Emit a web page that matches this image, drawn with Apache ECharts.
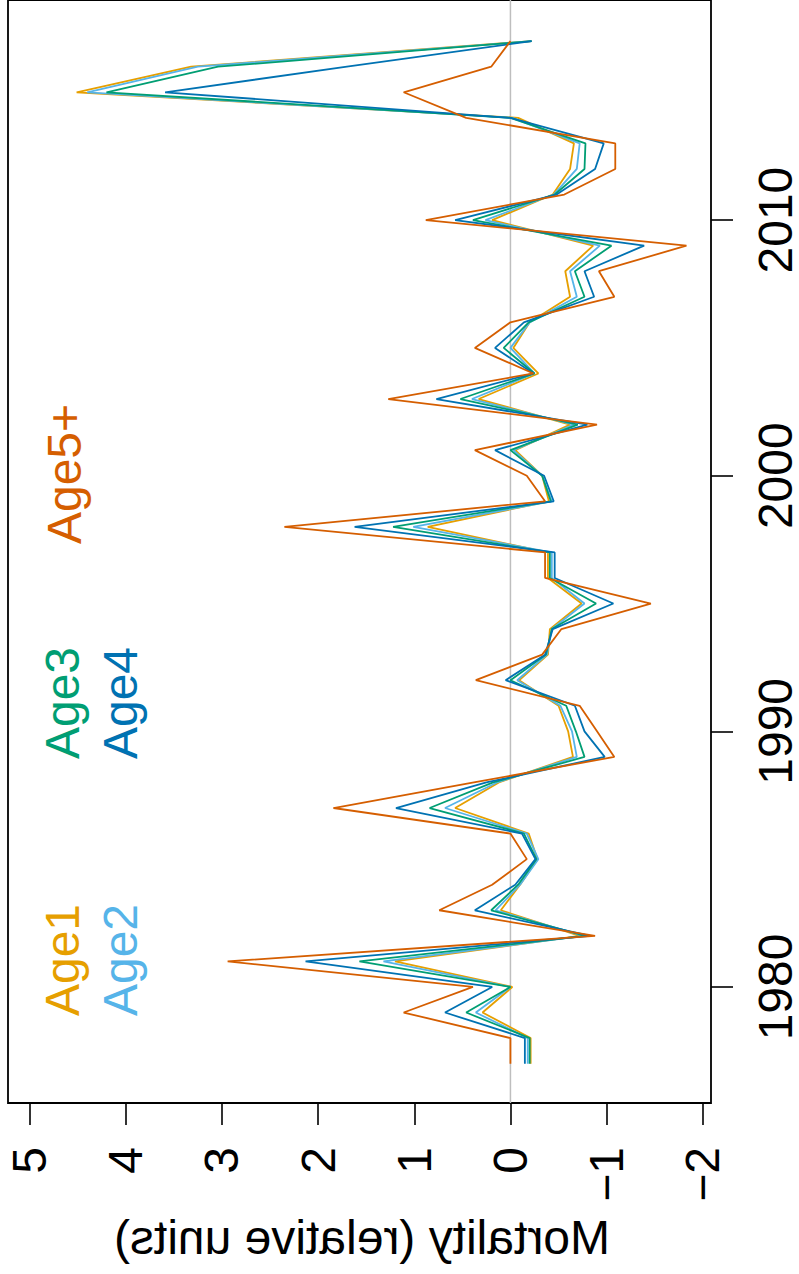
<!DOCTYPE html>
<html>
<head>
<meta charset="utf-8">
<script src="https://cdn.jsdelivr.net/npm/echarts@6/dist/echarts.min.js"></script>
<style>
html,body{margin:0;padding:0;background:#fff;}
#chart{width:799px;height:1274px;}
#err{position:absolute;left:200px;top:560px;font:12px monospace;color:red;white-space:pre-wrap;width:500px;}
</style>
</head>
<body>
<div id="chart"></div>
<div id="err"></div>
<script>
const years = [1977,1978,1979,1980,1981,1982,1983,1984,1985,1986,1987,1988,1989,1990,1991,1992,1993,1994,1995,1996,1997,1998,1999,2000,2001,2002,2003,2004,2005,2006,2007,2008,2009,2010,2011,2012,2013,2014,2015,2016,2017];
const age1 = [-0.21,-0.21,0.29,-0.02,1.20,-0.72,0.10,-0.10,-0.28,-0.19,0.575,0.12,-0.65,-0.60,-0.50,-0.09,-0.39,-0.41,-0.74,-0.39,-0.39,0.86,-0.40,-0.33,-0.05,-0.62,0.33,-0.29,-0.03,-0.20,-0.62,-0.57,-0.86,0.19,-0.44,-0.62,-0.66,-0.08,4.51,3.32,-0.22];
const age2 = [-0.18,-0.18,0.36,0.00,1.32,-0.76,0.155,-0.10,-0.29,-0.17,0.68,0.14,-0.69,-0.64,-0.52,-0.07,-0.38,-0.43,-0.77,-0.43,-0.43,1.01,-0.43,-0.33,-0.03,-0.66,0.40,-0.25,0.00,-0.20,-0.69,-0.62,-0.93,0.26,-0.45,-0.69,-0.72,-0.02,4.40,3.25,-0.22];
const age3 = [-0.20,-0.20,0.46,0.00,1.57,-0.78,0.20,-0.08,-0.27,-0.14,0.84,0.18,-0.77,-0.68,-0.58,0.00,-0.37,-0.43,-0.89,-0.41,-0.41,1.22,-0.42,-0.33,0.00,-0.70,0.52,-0.25,0.07,-0.19,-0.77,-0.67,-1.05,0.39,-0.46,-0.77,-0.78,0.00,4.20,3.04,-0.22];
const age4 = [-0.15,-0.15,0.68,0.19,2.13,-0.83,0.37,-0.05,-0.26,-0.12,1.19,0.25,-0.98,-0.77,-0.67,0.05,-0.36,-0.44,-1.07,-0.46,-0.46,1.62,-0.45,-0.35,0.16,-0.80,0.77,-0.24,0.16,-0.14,-0.87,-0.77,-1.39,0.575,-0.48,-0.88,-0.97,0.00,3.59,1.70,-0.22];
const age5 = [0.00,0.00,1.11,0.39,2.94,-0.88,0.74,0.19,-0.17,0.00,1.84,0.38,-1.08,-0.90,-0.72,0.36,-0.33,-0.53,-1.46,-0.36,-0.36,2.35,-0.36,-0.17,0.37,-0.90,1.27,-0.24,0.37,0.00,-1.08,-0.92,-1.83,0.88,-0.56,-1.09,-1.09,0.46,1.11,0.20,0.00];
const seriesNames = ['Age1','Age2','Age3','Age4','Age5+'];
const mortalityTicks = [-2,-1,0,1,2,3,4,5];
const yearTicks = [1980,1990,2000,2010];
const zeroLineValue = 0;
const axisTitle = 'Mortality (relative units)';

const colors = ['#E69F00','#56B4E9','#009E73','#0072B2','#D55E00'];
const allSeries = [age1, age2, age3, age4, age5];
const FONT = 'Liberation Sans, Arial, Helvetica, sans-serif';
const X_MIN = -2.0851, X_MAX = 5.2235, Y_MIN = 1975.46, Y_MAX = 2018.61;

try {
  const chart = echarts.init(document.getElementById('chart'), null, {renderer: 'svg', width: 799, height: 1274});

  const lineSeries = [{
    name: 'zero', type: 'line', data: [[zeroLineValue, Y_MIN], [zeroLineValue, Y_MAX]],
    showSymbol: false, silent: true,
    lineStyle: {color: '#bebebe', width: 1.5}, itemStyle: {color: '#bebebe'}, z: 1
  }].concat(allSeries.map((vals, k) => ({
    name: seriesNames[k], type: 'line',
    data: years.map((yr, i) => [vals[i], yr]),
    showSymbol: false, lineStyle: {color: colors[k], width: 1.8}, itemStyle: {color: colors[k]}, z: 3
  })));

  const labelPos = [[62, 960],[120, 960],[62, 703],[120, 703],[64, 474]];
  const graphics = seriesNames.map((n, k) => ({
    type: 'text', x: labelPos[k][0], y: labelPos[k][1], rotation: Math.PI/2,
    style: {text: n, fill: colors[k], fontSize: 48, fontFamily: FONT, textAlign: 'center', textVerticalAlign: 'middle'}, z: 10
  }));
  graphics.push({
    type: 'text', x: 362, y: 1237, scaleX: -1,
    style: {text: axisTitle, fill: '#000', fontSize: 48, fontFamily: FONT, textAlign: 'center', textVerticalAlign: 'middle'}, z: 10
  });

  const minusFmt = v => String(v).replace('-', '\u2212');
  const yearFmt = v => String(Math.round(v));

  chart.setOption({
    animation: false,
    backgroundColor: '#fff',
    grid: {left: 8, right: 82, top: -6, bottom: 171, show: true, borderColor: '#000', borderWidth: 1.8},
    xAxis: {type: 'value', min: X_MIN, max: X_MAX, inverse: true, position: 'bottom',
      axisLine: {show: false, onZero: false}, splitLine: {show: false},
      axisTick: {show: true, inside: false, length: 22, customValues: mortalityTicks, lineStyle: {color: '#000', width: 1.6}},
      axisLabel: {show: true, rotate: 90, margin: 44, fontSize: 48, color: '#000', fontFamily: FONT,
        customValues: mortalityTicks, formatter: minusFmt}},
    yAxis: {type: 'value', min: Y_MIN, max: Y_MAX, position: 'right',
      axisLine: {show: false, onZero: false}, splitLine: {show: false},
      axisTick: {show: true, inside: false, length: 22, customValues: yearTicks, lineStyle: {color: '#000', width: 1.6}},
      axisLabel: {show: true, rotate: 90, margin: 46, fontSize: 48, lineHeight: 36, color: '#000', fontFamily: FONT,
        customValues: yearTicks, formatter: yearFmt}},
    series: lineSeries,
    graphic: {elements: graphics}
  });
} catch (e) {
  document.getElementById('err').textContent = String(e && e.stack || e);
}
</script>
</body>
</html>
